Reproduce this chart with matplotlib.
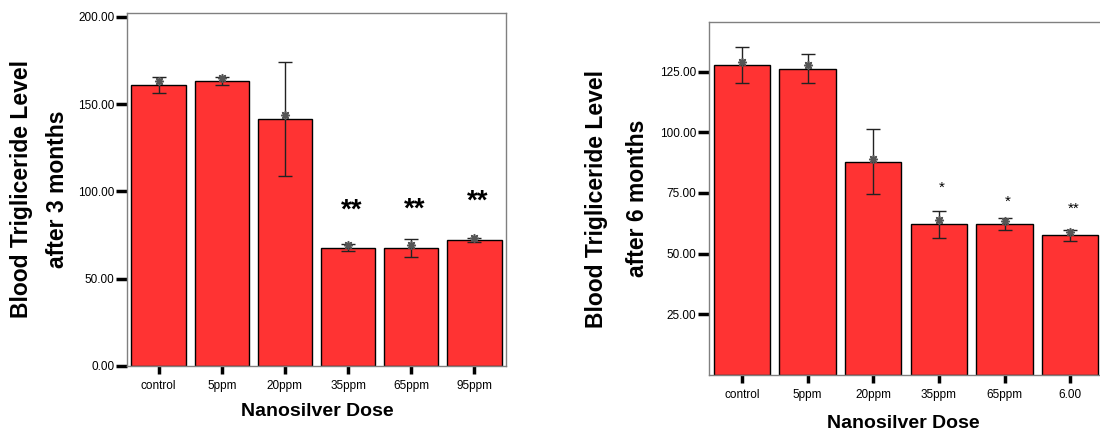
import numpy as np
import matplotlib
matplotlib.use("Agg")
import matplotlib.pyplot as plt

plt.rcParams['font.family'] = ['Liberation Sans', 'DejaVu Sans']

# 3 months
doses3 = ['control', '5ppm', '20ppm', '35ppm', '65ppm', '95ppm']
mean3 = [160.9, 163.2, 141.2, 67.7, 67.7, 72.1]
err3 = [4.8, 2.1, 32.6, 2.1, 5.2, 1.2]
point3 = [163.0, 165.0, 143.7, 69.5, 69.0, 73.0]
stars3 = ['', '', '', '**', '**', '**']
starpos3 = [0, 0, 0, 89.0, 89.6, 94.0]

# 6 months
doses6 = ['control', '5ppm', '20ppm', '35ppm', '65ppm', '6.00']
mean6 = [127.7, 126.2, 87.9, 62.1, 62.1, 57.5]
err6 = [7.4, 5.9, 13.4, 5.6, 2.5, 2.4]
point6 = [129.1, 127.5, 89.1, 63.7, 63.5, 59.0]
stars6 = ['', '', '', '*', '*', '**']
starpos6 = [0, 0, 0, 77.3, 71.5, 68.3]

RED = '#ff3333'

fig = plt.figure(figsize=(11, 4.32), dpi=100)


def draw(ax, doses, mean, err, point, stars, starpos, starsize, starweight):
    x = np.arange(len(doses))
    ax.bar(x, mean, width=0.86, color=RED, edgecolor='black', linewidth=1.0, zorder=2)
    ax.errorbar(x, mean, yerr=err, fmt='none', ecolor='#222222', elinewidth=1.0,
                capsize=5, capthick=1.0, zorder=3)
    ax.plot(x, point, linestyle='none', marker='o', markersize=3.5, color='#555555', zorder=4)
    ax.plot(x, point, linestyle='none', marker=(8, 2, 0), markersize=6.5,
            markeredgecolor='#555555', markeredgewidth=1.0, zorder=4)
    for xi, s, yp in zip(x, stars, starpos):
        if s:
            ax.text(xi + 0.05, yp, s, ha='center', va='center', fontsize=starsize,
                    fontweight=starweight, color='black', zorder=5)
    ax.set_xlim(-0.5, len(doses) - 0.5)
    ax.set_xticks(x)
    ax.set_xticklabels(doses, fontsize=8.5)
    for sp in ax.spines.values():
        sp.set_color('#808080')
        sp.set_linewidth(1.0)
    ax.tick_params(axis='y', direction='out', length=8, width=2.5, color='black',
                   labelsize=8.5, pad=1)
    ax.tick_params(axis='x', direction='out', length=6, width=2.5, color='black',
                   labelsize=8.5, pad=4)


ax1 = fig.add_axes([127 / 1100, 1 - 366 / 432, 379 / 1100, 353 / 432])
draw(ax1, doses3, mean3, err3, point3, stars3, starpos3, 20, 'bold')
ax1.set_ylim(0, 202.1)
ax1.set_yticks([0, 50, 100, 150, 200])
ax1.set_yticklabels(['%.2f' % v for v in [0, 50, 100, 150, 200]])

ax2 = fig.add_axes([709 / 1100, 1 - 375 / 432, 394 / 1100, 353 / 432])
draw(ax2, doses6, mean6, err6, point6, stars6, starpos6, 11, 'normal')
ax2.set_ylim(0, 145.4)
ax2.set_yticks([25, 50, 75, 100, 125])
ax2.set_yticklabels(['%.2f' % v for v in [25, 50, 75, 100, 125]])

# axis titles
lab = dict(fontsize=16.5, fontweight='bold', rotation=90, ha='center', va='center')
fig.text(22 / 1100, 1 - 189 / 432, 'Blood Trigliceride Level', **lab)
fig.text(58 / 1100, 1 - 189 / 432, 'after 3 months', **lab)
fig.text(596 / 1100, 1 - 198.5 / 432, 'Blood Trigliceride Level', **lab)
fig.text(638 / 1100, 1 - 198.5 / 432, 'after 6 months', **lab)

fig.text(317 / 1100, 1 - 412 / 432, 'Nanosilver Dose', fontsize=14, fontweight='bold',
         ha='center', va='center')
fig.text(903 / 1100, 1 - 423 / 432, 'Nanosilver Dose', fontsize=14, fontweight='bold',
         ha='center', va='center')

fig.savefig('out.png', dpi=100)
